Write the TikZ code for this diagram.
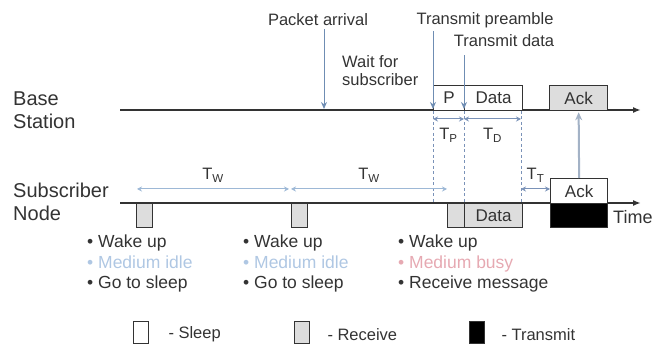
\documentclass[tikz,border=0pt]{standalone}
\usepackage{fontspec}
\setmainfont{Liberation Sans}
\usetikzlibrary{arrows.meta}

\definecolor{figInk}  {HTML}{333333}
\definecolor{figArr}  {HTML}{6F8DB3}
\definecolor{figTw}   {HTML}{9DB8D6}
\definecolor{figDash} {HTML}{7A92B8}
\definecolor{figAck}  {HTML}{A3B2C6}
\definecolor{figIdle} {HTML}{AFC7E3}
\definecolor{figBusy} {HTML}{E6A9B2}
\definecolor{figRx}   {HTML}{DDDDDD}

\tikzset{
  lbl/.style={font=\fontsize{20}{23}\selectfont, text=figInk, align=left, inner sep=0pt},
  note/.style={font=\fontsize{16.5}{18.5}\selectfont, text=figInk, inner sep=0pt},
  slot/.style={draw=figInk, line width=1.3pt, inner sep=0pt, anchor=north west,
               font=\fontsize{17}{19}\selectfont, text=figInk},
  timeline/.style={line width=1.8pt, draw=figInk, -{Latex[length=8pt,width=6pt]}},
  event/.style={line width=1pt, draw=figArr, -{Stealth[length=7pt,width=6pt]}},
  span/.style={line width=1pt, draw=#1, {Stealth[length=5pt,width=5pt]}-{Stealth[length=5pt,width=5pt]}},
  span/.default=figDash,
  bullets/.style={font=\fontsize{17.5}{20.5}\selectfont, text=figInk, align=left, inner sep=0pt, anchor=north west}
}

\begin{document}
\begin{tikzpicture}[x=1pt, y=-1pt]
    \useasboundingbox (0,0) rectangle (654,344);
    %--- Tidslinjer ---
    \node[lbl, anchor=west] (bsLbl) at (13,110) {Base\\Station};
    \node[lbl, anchor=west] (snLbl) at (13,202) {Subscriber\\Node};
    \coordinate (bsL) at (120,110);
    \coordinate (bsR) at (641,110);
    \coordinate (snL) at (120,203);
    \coordinate (snR) at (641,203);
    \draw[timeline] (bsL) -- (bsR);
    \draw[timeline] (snL) -- (snR);
    \node[lbl, anchor=west, font=\fontsize{18}{20}\selectfont] (timeLbl) at (613,217) {Time};

    %--- Rammer ---
    \node[slot, fill=white, minimum width=31pt, minimum height=25pt] (bsP)   at (433,85) {P};
    \node[slot, fill=white, minimum width=58pt, minimum height=25pt] (bsDat) at (464,85) {Data};
    \node[slot, fill=figRx, minimum width=58pt, minimum height=25pt] (bsAck) at (549,85) {Ack};
    \node[slot, fill=figRx, minimum width=16pt, minimum height=24pt] (rx1) at (136,203) {};
    \node[slot, fill=figRx, minimum width=16pt, minimum height=24pt] (rx2) at (291,203) {};
    \node[slot, fill=figRx, minimum width=17pt, minimum height=24pt] (rx3) at (447,203) {};
    \node[slot, fill=figRx, minimum width=58pt, minimum height=24pt] (snDat) at (464,203) {Data};
    \node[slot, fill=white, minimum width=57pt, minimum height=25pt] (snAck) at (550,178) {Ack};
    \node[slot, fill=black, minimum width=57pt, minimum height=24pt] (snTx)  at (550,203) {};

    %--- Hendelser over basestasjonen ---
    \node[note] (pktTxt) at (318,20) {Packet arrival};
    \node[note] (preTxt) at (485,20) {Transmit preamble};
    \node[note] (datTxt) at (504,41) {Transmit data};
    \node[note, align=left, anchor=west, font=\fontsize{16.5}{18}\selectfont] (waitTxt) at (342,71) {Wait for\\subscriber};
    \coordinate (pktPt) at (324,109);
    \coordinate (prePt) at (433,109);
    \coordinate (datPt) at (464,109);
    \draw[event] (pktTxt.south -| pktPt) ++(0,3) -- (pktPt);
    \draw[event] (preTxt.south -| prePt) ++(0,3) -- (prePt);
    \draw[event] (datTxt.south -| datPt) ++(0,8) -- (datPt);

    %--- Kvittering ---
    \draw[line width=2pt, draw=figAck, -{Stealth[length=8pt,width=7pt]}] (snAck.north) -- ([yshift=-1pt]bsAck.south);

    %--- Stiplede hjelpelinjer ---
    \foreach \xx [count=\i] in {433,464,521}{
      \coordinate (dTop\i) at (\xx,111);
      \coordinate (dBot\i) at (\xx,202);
      \draw[draw=figDash, line width=1pt, dash pattern=on 3pt off 2.5pt] (dTop\i) -- (dBot\i);
    }

    %--- Tidsintervaller ---
    \draw[span] ([yshift=-8pt]dTop1) -- ([yshift=-8pt]dTop2) node[note, midway, below=9pt] (tpLbl) {T\textsubscript{P}};
    \draw[span] ([yshift=-8pt]dTop2) -- ([yshift=-8pt]dTop3) node[note, midway, below=9pt] (tdLbl) {T\textsubscript{D}};
    \coordinate (tw0) at (137,189);
    \coordinate (tw1) at (289,189);
    \coordinate (tw2) at (291,189);
    \coordinate (tw3) at (447,189);
    \draw[span=figTw] (tw0) -- (tw1) node[note, midway, above=6pt] (tw1Lbl) {T\textsubscript{W}};
    \draw[span=figTw] (tw2) -- (tw3) node[note, midway, above=6pt] (tw2Lbl) {T\textsubscript{W}};
    \draw[span] (dBot3 |- tw3) -- (snAck.west |- tw3) node[note, midway, above=6pt] (ttLbl) {T\textsubscript{T}};

    %--- Tilstander hos abonnenten ---
    \node[bullets] (wake1) at (87,235) {• Wake up\\{\color{figIdle}• Medium idle}\\• Go to sleep};
    \node[bullets] (wake2) at (243,235) {• Wake up\\{\color{figIdle}• Medium idle}\\• Go to sleep};
    \node[bullets] (wake3) at (398,235) {• Wake up\\{\color{figBusy}• Medium busy}\\• Receive message};

    %--- Forklaring ---
    \node[slot, fill=white, minimum width=15pt, minimum height=22pt] (keySleep) at (133,321) {};
    \node[slot, fill=figRx, minimum width=15pt, minimum height=22pt] (keyRx)    at (294,321) {};
    \node[slot, fill=black, minimum width=15pt, minimum height=22pt] (keyTx)    at (469,321) {};
    \node[note, anchor=west] at ([xshift=19pt,yshift=-2pt]keySleep.east) {- Sleep};
    \node[note, anchor=west] at ([xshift=17pt,yshift=-2pt]keyRx.east) {- Receive};
    \node[note, anchor=west] at ([xshift=16pt,yshift=-2pt]keyTx.east) {- Transmit};
\end{tikzpicture}
\end{document}
